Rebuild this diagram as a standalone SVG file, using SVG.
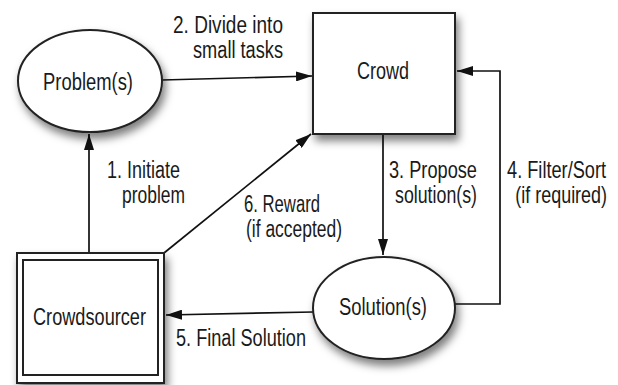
<svg xmlns="http://www.w3.org/2000/svg" width="618" height="385" viewBox="0 0 618 385">
<defs>
<filter id="sh" x="-20%" y="-20%" width="150%" height="160%">
<feDropShadow dx="3" dy="6" stdDeviation="4" flood-color="#000" flood-opacity="0.5"/>
</filter>
<marker id="ah" viewBox="0 0 16 10" refX="16" refY="5" markerWidth="16" markerHeight="10" markerUnits="userSpaceOnUse" orient="auto">
<path d="M0,0 L16,5 L0,10 Z" fill="#111"/>
</marker>
</defs>
<style>
.node{fill:#fff;stroke:#222;stroke-width:2}
.lbl{font-family:"Liberation Sans",Arial,sans-serif;font-size:23px;fill:#1a1a1a}
.end{text-anchor:end}
.edge{fill:none;stroke:#111;stroke-width:1.7;marker-end:url(#ah)}
</style>
<rect width="618" height="385" fill="#fff"/>
<g id="connectors">
<line class="edge" x1="162" y1="80" x2="312" y2="76"/>
<line class="edge" x1="89" y1="253" x2="89" y2="134"/>
<line class="edge" x1="164" y1="253" x2="311" y2="134"/>
<line class="edge" x1="383" y1="134" x2="383" y2="255"/>
<polyline class="edge" points="455,304 500,304 500,71 457,71"/>
<line class="edge" x1="313" y1="312" x2="166" y2="315"/>
</g>
<g id="problem">
<ellipse class="node" cx="90" cy="81" rx="72" ry="51" filter="url(#sh)"/>
<text class="lbl" x="43" y="90" textLength="90" lengthAdjust="spacingAndGlyphs">Problem(s)</text>
</g>
<g id="crowd">
<rect class="node" x="313" y="13" width="142" height="121" filter="url(#sh)"/>
<text class="lbl" x="357" y="79" textLength="52" lengthAdjust="spacingAndGlyphs">Crowd</text>
</g>
<g id="solution">
<ellipse class="node" cx="384" cy="308" rx="71" ry="51" filter="url(#sh)"/>
<text class="lbl" x="339" y="315" textLength="88" lengthAdjust="spacingAndGlyphs">Solution(s)</text>
</g>
<g id="crowdsourcer">
<rect class="node" x="17" y="253" width="147" height="130" stroke-width="2.5" filter="url(#sh)"/>
<rect x="23" y="260" width="135" height="115" fill="none" stroke="#222" stroke-width="2"/>
<text class="lbl" x="33" y="325" textLength="113" lengthAdjust="spacingAndGlyphs">Crowdsourcer</text>
</g>
<g id="edge-labels">
<text class="lbl end" x="283" y="33" textLength="110" lengthAdjust="spacingAndGlyphs">2. Divide into</text>
<text class="lbl end" x="283" y="58" textLength="90" lengthAdjust="spacingAndGlyphs">small tasks</text>
<text class="lbl" x="107" y="178" textLength="73" lengthAdjust="spacingAndGlyphs">1. Initiate</text>
<text class="lbl" x="122" y="203" textLength="63" lengthAdjust="spacingAndGlyphs">problem</text>
<text class="lbl end" x="477" y="178" textLength="88" lengthAdjust="spacingAndGlyphs">3. Propose</text>
<text class="lbl end" x="477" y="203" textLength="82" lengthAdjust="spacingAndGlyphs">solution(s)</text>
<text class="lbl end" transform="translate(606,178) scale(0.79,1)">4. Filter/Sort</text>
<text class="lbl end" transform="translate(607,203) scale(0.78,1)">(if required)</text>
<text class="lbl" x="244" y="212" textLength="76" lengthAdjust="spacingAndGlyphs">6. Reward</text>
<text class="lbl" x="246" y="237" textLength="96" lengthAdjust="spacingAndGlyphs">(if accepted)</text>
<text class="lbl" x="176" y="346" textLength="130" lengthAdjust="spacingAndGlyphs">5. Final Solution</text>
</g>
</svg>
